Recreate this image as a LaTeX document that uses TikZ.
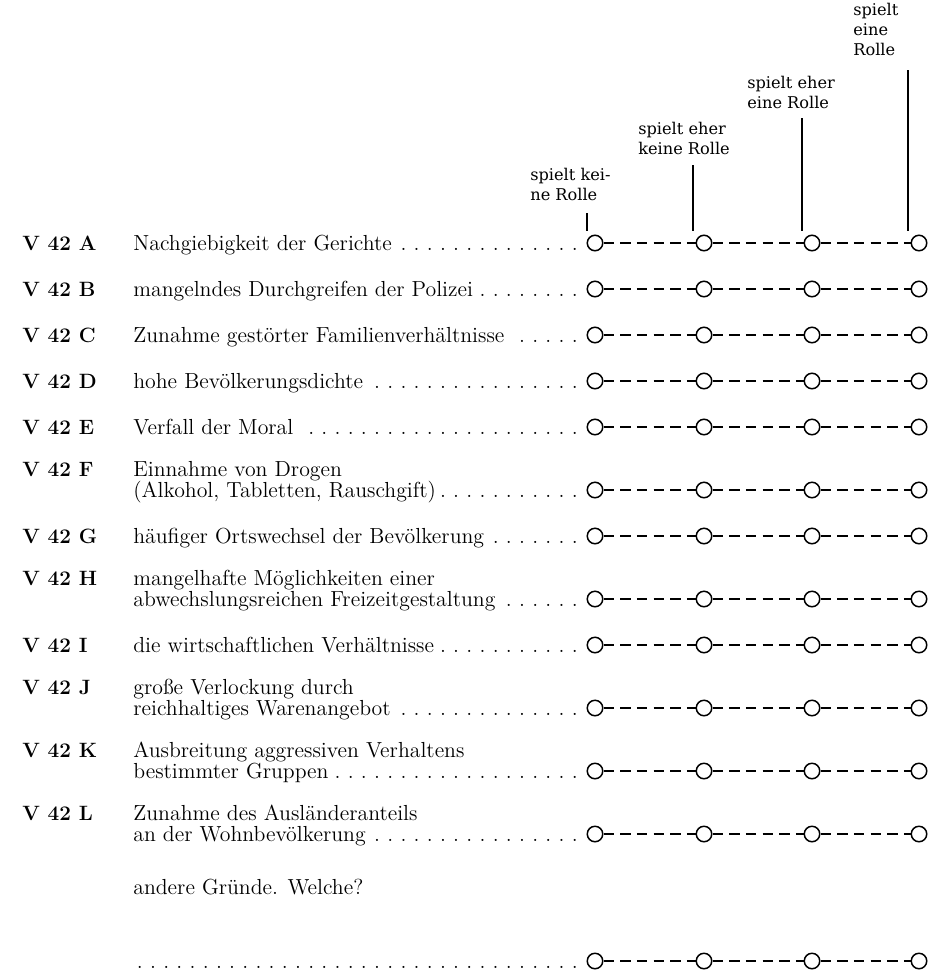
\documentclass[tikz,border=0pt]{standalone}
\usepackage{fontspec}
\usepackage{tikz}
\newfontfamily\kopffont{DejaVu Serif}

\tikzset{
  nummer/.style={anchor=base west,inner sep=0,font=\bfseries\fontsize{11.8}{10}\selectfont},
  zeile/.style={anchor=base west,inner sep=0,font=\fontsize{12.4}{10}\selectfont},
  antwort/.style={anchor=north west,align=left,inner sep=0,font=\kopffont\fontsize{9.2}{11.4}\selectfont},
  kreis/.style={circle,draw,line width=0.85pt,minimum size=0.31cm,inner sep=0},
  strich/.style={line width=0.65pt,dash pattern=on 6pt off 3.5pt},
  marke/.style={line width=0.6pt}
}

% leader dots up to the first circle
\newcommand{\punkte}[1]{\makebox[8.98cm][l]{#1\leaders\hbox to 7.5pt{\hss.\hss}\hfill}}

% four circles of one row
\newcommand{\skala}[2]{%
  \node[kreis] (#11) at (595,#2) {};
  \node[kreis] (#12) at (704,#2) {};
  \node[kreis] (#13) at (812,#2) {};
  \node[kreis] (#14) at (919,#2) {};
  \draw[strich] (#11) -- (#12);
  \draw[strich] (#12) -- (#13);
  \draw[strich] (#13) -- (#14);
}
\newcommand{\frage}[4]{%
  \node[nummer] (#1num) at (22,#2+7.5) {V 42 #3};
  \node[zeile] (#1txt) at (133,#2+7.5) {\punkte{#4}};
  \skala{#1}{#2}
}
\newcommand{\fragezwei}[5]{%
  \node[nummer] (#1num) at (22,#2-13.5) {V 42 #3};
  \node[zeile] (#1kopf) at (133,#2-13.5) {#4};
  \node[zeile] (#1txt) at (133,#2+7.5) {\punkte{#5}};
  \skala{#1}{#2}
}

\begin{document}
\begin{tikzpicture}[x=0.02cm,y=-0.02cm]
\useasboundingbox (0,0) rectangle (937,970);

% answer heads
\node[antwort] (kopf1) at (530,168) {spielt kei-\\ne Rolle};
\node[antwort] (kopf2) at (638,122) {spielt eher\\keine Rolle};
\node[antwort] (kopf3) at (747,76) {spielt eher\\eine Rolle};
\node[antwort] (kopf4) at (853,3) {spielt\\eine\\Rolle};

\frage{A}{243}{A}{Nachgiebigkeit der Gerichte}
\frage{B}{289}{B}{mangelndes Durchgreifen der Polizei}
\frage{C}{335}{C}{Zunahme gestörter Familienverhältnisse}
\frage{D}{381}{D}{hohe Bevölkerungsdichte}
\frage{E}{427}{E}{Verfall der Moral}
\fragezwei{F}{490}{F}{Einnahme von Drogen}{(Alkohol, Tabletten, Rauschgift)}
\frage{G}{536}{G}{häufiger Ortswechsel der Bevölkerung}
\fragezwei{H}{599}{H}{mangelhafte Möglichkeiten einer}{abwechslungsreichen Freizeitgestaltung}
\frage{I}{645}{I}{die wirtschaftlichen Verhältnisse}
\fragezwei{J}{708}{J}{große Verlockung durch}{reichhaltiges Warenangebot}
\fragezwei{K}{771}{K}{Ausbreitung aggressiven Verhaltens}{bestimmter Gruppen}
\fragezwei{L}{834}{L}{Zunahme des Ausländeranteils}{an der Wohnbevölkerung}

\node[zeile] (anders) at (133,894) {andere Gründe. Welche?};
\node[zeile] (Xtxt) at (133,968) {\punkte{}};
\skala{X}{961}

% ticks from heads to first row
\coordinate (t1) at (587,213);
\coordinate (t2) at (693,165);
\coordinate (t3) at (802,118);
\coordinate (t4) at (908,70);
\draw[marke] (t1) -- ([yshift=2pt]t1 |- A1.north);
\draw[marke] (t2) -- ([yshift=2pt]t2 |- A2.north);
\draw[marke] (t3) -- ([yshift=2pt]t3 |- A3.north);
\draw[marke] (t4) -- ([yshift=2pt]t4 |- A4.north);
\end{tikzpicture}
\end{document}
